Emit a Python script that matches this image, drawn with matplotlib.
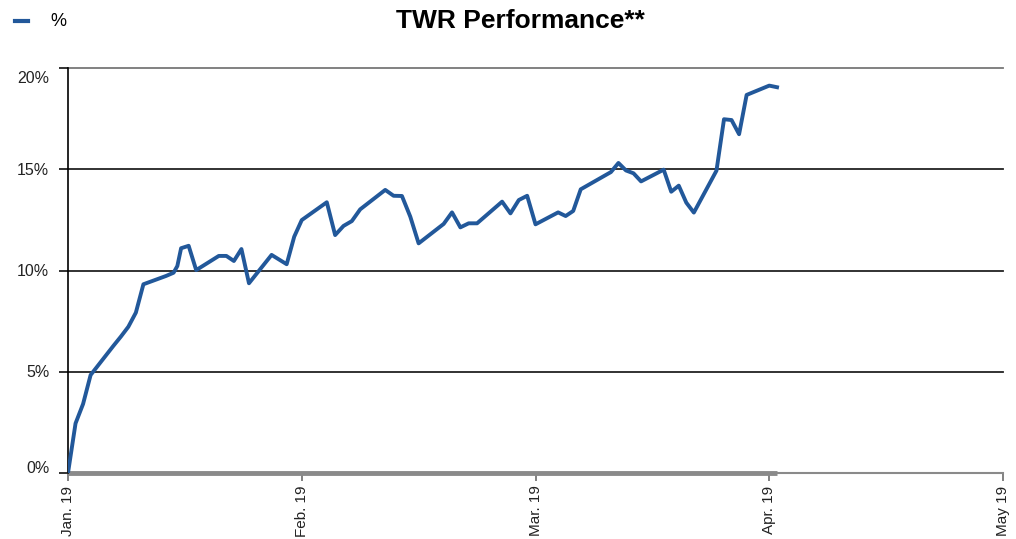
import numpy as np
import pandas as pd
import matplotlib
matplotlib.use("Agg")
import matplotlib.pyplot as plt

plt.rcParams['font.family'] = ['Liberation Sans', 'DejaVu Sans']

# data (date, TWR %)
dates = ["2019-01-01", "2019-01-02", "2019-01-03", "2019-01-04", "2019-01-07",
         "2019-01-08", "2019-01-09", "2019-01-10", "2019-01-11", "2019-01-14",
         "2019-01-15", "2019-01-15", "2019-01-16", "2019-01-17", "2019-01-18",
         "2019-01-21", "2019-01-22", "2019-01-23", "2019-01-24", "2019-01-25",
         "2019-01-28", "2019-01-30", "2019-01-31", "2019-02-01", "2019-02-04",
         "2019-02-05", "2019-02-06", "2019-02-07", "2019-02-08", "2019-02-11",
         "2019-02-12", "2019-02-13", "2019-02-14", "2019-02-15", "2019-02-18",
         "2019-02-19", "2019-02-20", "2019-02-21", "2019-02-22", "2019-02-25",
         "2019-02-26", "2019-02-27", "2019-02-28", "2019-03-01", "2019-03-04",
         "2019-03-05", "2019-03-06", "2019-03-07", "2019-03-11", "2019-03-12",
         "2019-03-13", "2019-03-14", "2019-03-15", "2019-03-18", "2019-03-19",
         "2019-03-20", "2019-03-21", "2019-03-22", "2019-03-25", "2019-03-26",
         "2019-03-27", "2019-03-28", "2019-03-29", "2019-04-01", "2019-04-02"]
twr = [0.00, 2.45, 3.41, 4.84, 6.27, 6.73, 7.22, 7.92, 9.32, 9.73,
       9.89, 10.22, 11.10, 11.22, 10.02, 10.72, 10.72, 10.47, 11.06, 9.37,
       10.77, 10.31, 11.67, 12.49, 13.37, 11.75, 12.20, 12.44, 13.02, 13.98,
       13.69, 13.68, 12.66, 11.34, 12.30, 12.87, 12.13, 12.33, 12.33, 13.40,
       12.82, 13.48, 13.69, 12.28, 12.87, 12.69, 12.94, 14.01, 14.86, 15.31,
       14.94, 14.80, 14.40, 14.98, 13.89, 14.19, 13.35, 12.86, 14.93, 17.47,
       17.43, 16.73, 18.67, 19.13, 19.05]

month_labels = ["Jan. 19", "Feb. 19", "Mar. 19", "Apr. 19", "May 19"]
y_ticks = [0, 5, 10, 15, 20]

# months are drawn equally wide, so place each day inside its month
d = pd.to_datetime(dates)
x = np.array((d.month - 1) + (d.day - 1) / d.days_in_month)
x[11] = x[11] + 0.5 / 31  # two points fall on the same day in the picture

fig = plt.figure(figsize=(10.16, 5.39), dpi=100)
ax = fig.add_axes([68 / 1016, 1 - 473 / 539, 935 / 1016, 405 / 539])

for v in y_ticks[1:]:
    col = '#777777' if v == y_ticks[-1] else '#222222'
    ax.axhline(v, color=col, lw=1.3, zorder=1, clip_on=False)

# thick gray base under the data range, thin after it
ax.plot([x[0], x[-1]], [0, 0], color='#8a8a8a', lw=3.5, zorder=2,
        solid_capstyle='butt', clip_on=False)
ax.plot([x[0], len(month_labels) - 1], [0, 0], color='#8a8a8a', lw=1.5,
        zorder=2, clip_on=False)

ax.plot(x, twr, color='#22589a', lw=2.8, zorder=3, solid_joinstyle='round')

ax.set_xlim(0, len(month_labels) - 1)
ax.set_ylim(0, 20)
ax.set_xticks(range(len(month_labels)))
ax.set_xticklabels(month_labels, rotation=90, fontsize=11, color='#222222')
ax.tick_params(axis='x', length=6, width=1.3, color='#777777', pad=3)
ax.set_yticks(y_ticks)
ax.set_yticklabels([])
ax.tick_params(axis='y', length=6.5, width=1.3, color='#222222')

# y labels sit inside the plot band at the ends
y_shift = {0: 3, 20: -7.5}
for v in y_ticks:
    ax.annotate(f"{v}%", xy=(0, v), xycoords=('axes fraction', 'data'),
                xytext=(-13.5, y_shift.get(v, -0.7)), textcoords='offset points',
                ha='right', va='center', fontsize=11.5, color='#222222')

for s in ['top', 'right', 'bottom']:
    ax.spines[s].set_visible(False)
ax.spines['left'].set_color('black')
ax.spines['left'].set_linewidth(1.2)

fig.text(520 / 1016, 1 - 21 / 539, "TWR Performance**", fontsize=19,
         fontweight='bold', ha='center', va='center')

# legend
fig.lines.append(plt.Line2D([15 / 1016, 28 / 1016], [1 - 21 / 539, 1 - 21 / 539],
                            color='#22589a', lw=3, transform=fig.transFigure))
fig.text(50 / 1016, 1 - 22 / 539, "%", fontsize=13, ha='left', va='center')

fig.savefig("out.png", dpi=100)
